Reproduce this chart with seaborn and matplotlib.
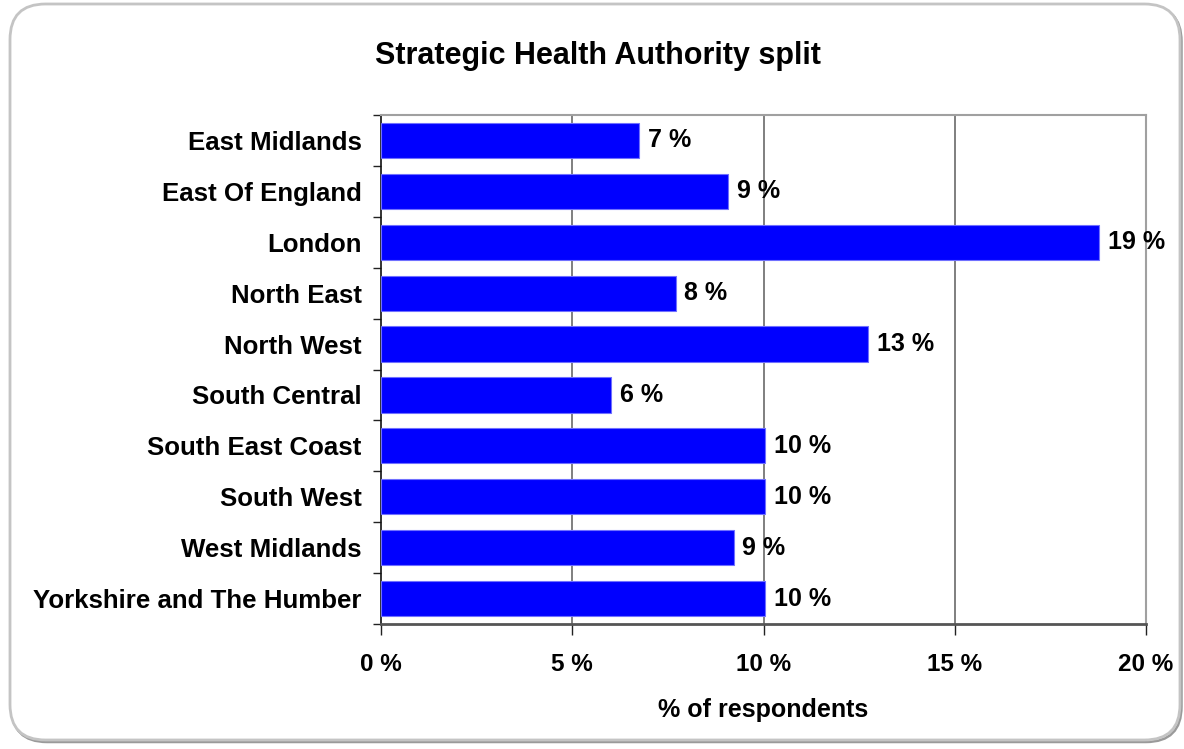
import matplotlib
matplotlib.use("Agg")
import matplotlib.pyplot as plt
from matplotlib.patches import FancyBboxPatch
from matplotlib.ticker import FixedLocator, FuncFormatter
import numpy as np
import pandas as pd
import seaborn as sns

# Share of respondents per Strategic Health Authority (%)
regions = [
    "East Midlands", "East Of England", "London", "North East", "North West",
    "South Central", "South East Coast", "South West", "West Midlands",
    "Yorkshire and The Humber",
]
shares = [6.75, 9.08, 18.78, 7.70, 12.74, 6.02, 10.05, 10.05, 9.23, 10.05]
x_ticks = [0, 5, 10, 15, 20]

title = "Strategic Health Authority split"
x_title = "% of respondents"

sns.set_theme(style="white")
plt.rcParams["font.family"] = ["Liberation Sans", "DejaVu Sans"]
for key in ["text.color", "axes.labelcolor", "xtick.color", "ytick.color"]:
    plt.rcParams[key] = "black"

W, H = 1184, 749
fig = plt.figure(figsize=(W / 100, H / 100), dpi=100)
fig.patch.set_facecolor("white")

# rounded chart-area frame with a faint drop shadow
shadow = FancyBboxPatch((11.5 / W, 7 / H), 1170 / W, 736 / H,
                        boxstyle="round,pad=0,rounding_size=0.03",
                        transform=fig.transFigure, facecolor="none",
                        edgecolor="#9a9a9a", linewidth=1.8, zorder=0,
                        mutation_aspect=W / H)
frame = FancyBboxPatch((10 / W, 9 / H), 1170 / W, 736 / H,
                       boxstyle="round,pad=0,rounding_size=0.03",
                       transform=fig.transFigure, facecolor="white",
                       edgecolor="#c4c4c4", linewidth=2.0, zorder=0.5,
                       mutation_aspect=W / H)
fig.patches.extend([shadow, frame])

ax = fig.add_axes([381 / W, 1 - 624 / H, (1146 - 381) / W, (624 - 115) / H])
ax.set_zorder(2)
ax.patch.set_alpha(0)

df = pd.DataFrame({"region": regions, "share": shares})
sns.barplot(data=df, y="region", x="share", orient="h", color="#0000FF",
            saturation=1, width=0.69, edgecolor="#7070ff", linewidth=0.8,
            ax=ax, zorder=3)

ax.set_xlim(0, 20)
ax.set_ylim(len(regions) - 0.5, -0.5)

# vertical gridlines
for v in x_ticks[1:-1]:
    ax.axvline(v, color="#6a6a6a", linewidth=1.2, zorder=1)

ax.xaxis.set_major_locator(FixedLocator(x_ticks))
ax.xaxis.set_major_formatter(FuncFormatter(lambda v, p: f"{v:.0f} %"))
ax.tick_params(axis="x", bottom=True, length=8, width=1.0, color="#222222",
               pad=13, labelsize=17.5)
for lab in ax.get_xticklabels():
    lab.set_fontweight("bold")

# category ticks sit between the bars
ax.yaxis.set_minor_locator(FixedLocator(np.arange(-0.5, len(regions) + 0.5, 1)))
ax.tick_params(axis="y", which="major", left=False, length=0, pad=14,
               labelsize=18.6)
ax.tick_params(axis="y", which="minor", left=True, length=6, width=1.0,
               color="#222222")
for lab in ax.get_yticklabels():
    lab.set_fontweight("bold")

ax.set_ylabel("")
ax.set_xlabel(x_title, fontsize=18, fontweight="bold", labelpad=16)

for side in ["top", "right"]:
    ax.spines[side].set_visible(True)
    ax.spines[side].set_color("#a0a0a0")
    ax.spines[side].set_linewidth(1.5)
ax.spines["left"].set_color("#111111")
ax.spines["left"].set_linewidth(1.2)
ax.spines["bottom"].set_color("#555555")
ax.spines["bottom"].set_linewidth(2.0)

ax.bar_label(ax.containers[0], labels=[f"{v:.0f} %" for v in shares],
             padding=6, fontsize=18, fontweight="bold", color="black",
             zorder=4)

fig.text(0.505, 1 - 56 / H, title, ha="center", va="center",
         fontsize=22, fontweight="bold")

fig.savefig("out.png", dpi=100, facecolor="white")
